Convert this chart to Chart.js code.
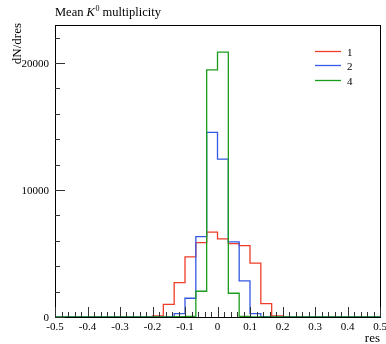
<!DOCTYPE html>
<html>
<head>
<meta charset="utf-8">
<script src="https://cdn.jsdelivr.net/npm/chart.js@4/dist/chart.umd.min.js"></script>
<style>
  html, body { margin: 0; padding: 0; background: #fff; }
  #wrap { width: 386px; height: 344px; }
</style>
</head>
<body>
<div id="wrap"><canvas id="chart"></canvas></div>
<script>
// histogram binning: 30 bins over [-0.5, 0.5]
const nBins = 30;
const xMin = -0.5;
const xMax = 0.5;
const binEdges = Array.from({ length: nBins + 1 }, (_, i) => xMin + i * (xMax - xMin) / nBins);

// bin contents
const mult1 = [0, 0, 0, 0, 0, 0, 0, 0, 0, 90, 1000, 2710, 4740, 5860, 6680, 6150, 5780, 5620, 4240, 1050, 90, 0, 0, 0, 0, 0, 0, 0, 0, 0];
const mult2 = [0, 0, 0, 0, 0, 0, 0, 0, 0, 0, 30, 260, 1475, 6330, 14550, 12440, 5920, 2840, 260, 30, 0, 0, 0, 0, 0, 0, 0, 0, 0, 0];
const mult4 = [0, 0, 0, 0, 0, 0, 0, 0, 0, 0, 0, 20, 50, 2030, 19470, 20870, 1870, 50, 0, 0, 0, 0, 0, 0, 0, 0, 0, 0, 0, 0];

const seriesNames = ['1', '2', '4'];
const seriesColors = ['#ee3d28', '#3459e2', '#1c9c1c'];

const xTicks = [-0.5, -0.4, -0.3, -0.2, -0.1, 0, 0.1, 0.2, 0.3, 0.4, 0.5];
const xTickLabels = ['-0.5', '-0.4', '-0.3', '-0.2', '-0.1', '0', '0.1', '0.2', '0.3', '0.4', '0.5'];
const yTicks = [0, 10000, 20000];
const yTickLabels = ['0', '10000', '20000'];

// one point per left bin edge, plus the closing right edge
const toSteps = vals => {
  const pts = vals.map((v, i) => ({ x: binEdges[i], y: v }));
  pts.push({ x: binEdges[nBins], y: vals[nBins - 1] });
  return pts;
};

const FONT = '"Liberation Serif", "DejaVu Serif", serif';

const frame = {
  id: 'frame',
  afterDraw(chart) {
    const { ctx, chartArea: a, scales: { x, y } } = chart;
    ctx.save();

    // box
    ctx.strokeStyle = '#000';
    ctx.lineWidth = 1;
    ctx.strokeRect(a.left + 0.5, a.top + 0.5, a.right - a.left, a.bottom - a.top);

    // x ticks (inside, pointing up)
    ctx.strokeStyle = '#333';
    ctx.beginPath();
    for (let v = -50; v <= 50; v += 2) {
      const px = Math.round(x.getPixelForValue(v / 100)) + 0.5;
      const len = v % 10 === 0 ? 10 : 5;
      ctx.moveTo(px, a.bottom);
      ctx.lineTo(px, a.bottom - len);
    }
    // y ticks (inside, pointing right)
    for (let v = 0; v <= 22000; v += 2000) {
      const py = Math.round(y.getPixelForValue(v)) + 0.5;
      const len = v % 10000 === 0 ? 10 : 5;
      ctx.moveTo(a.left, py);
      ctx.lineTo(a.left + len, py);
    }
    ctx.stroke();

    // tick labels
    ctx.fillStyle = '#000';
    ctx.font = '11px ' + FONT;
    ctx.textAlign = 'center';
    ctx.textBaseline = 'alphabetic';
    xTicks.forEach((v, i) => {
      ctx.fillText(xTickLabels[i], x.getPixelForValue(v), a.bottom + 13);
    });
    ctx.textAlign = 'right';
    ctx.textBaseline = 'middle';
    yTicks.forEach((v, i) => {
      ctx.fillText(yTickLabels[i], a.left - 6, y.getPixelForValue(v) + 1);
    });

    // axis titles
    ctx.font = '13px ' + FONT;
    ctx.textAlign = 'right';
    ctx.textBaseline = 'alphabetic';
    ctx.fillText('res', a.right, 342);
    ctx.save();
    ctx.translate(21, 23);
    ctx.rotate(-Math.PI / 2);
    ctx.fillText('dN/dres', 0, 0);
    ctx.restore();

    // title: Mean K^0 multiplicity
    ctx.textAlign = 'left';
    let tx = a.left;
    ctx.font = '12.5px ' + FONT;
    ctx.fillText('Mean ', tx, 16);
    tx += ctx.measureText('Mean ').width;
    ctx.font = 'italic 12.5px ' + FONT;
    ctx.fillText('K', tx, 16);
    tx += ctx.measureText('K').width + 0.5;
    ctx.font = '8px ' + FONT;
    ctx.fillText('0', tx, 11);
    tx += ctx.measureText('0').width;
    ctx.font = '12.5px ' + FONT;
    ctx.fillText(' multiplicity', tx, 16);

    // legend
    const legY = [51, 65, 80];
    ctx.font = '11px ' + FONT;
    ctx.textBaseline = 'middle';
    seriesNames.forEach((name, i) => {
      ctx.strokeStyle = seriesColors[i];
      ctx.lineWidth = 1.3;
      ctx.beginPath();
      ctx.moveTo(315, legY[i] + 0.5);
      ctx.lineTo(341, legY[i] + 0.5);
      ctx.stroke();
      ctx.fillText(name, 347, legY[i] + 2);
    });

    ctx.restore();
  }
};

new Chart(document.getElementById('chart'), {
  type: 'line',
  data: {
    datasets: [
      { label: seriesNames[0], data: toSteps(mult1), borderColor: seriesColors[0], order: 2 },
      { label: seriesNames[1], data: toSteps(mult2), borderColor: seriesColors[1], order: 1 },
      { label: seriesNames[2], data: toSteps(mult4), borderColor: seriesColors[2], order: 0 },
    ],
  },
  options: {
    responsive: true,
    maintainAspectRatio: false,
    animation: false,
    layout: { padding: { left: 55, right: 6, top: 25, bottom: 27 } },
    elements: {
      line: { stepped: 'before', borderWidth: 1.3, fill: false, tension: 0 },
      point: { radius: 0 },
    },
    plugins: { legend: { display: false }, title: { display: false }, tooltip: { enabled: false } },
    scales: {
      x: { type: 'linear', min: xMin, max: xMax, display: false },
      y: { type: 'linear', min: 0, max: 23000, display: false },
    },
  },
  plugins: [frame],
});
</script>
</body>
</html>
